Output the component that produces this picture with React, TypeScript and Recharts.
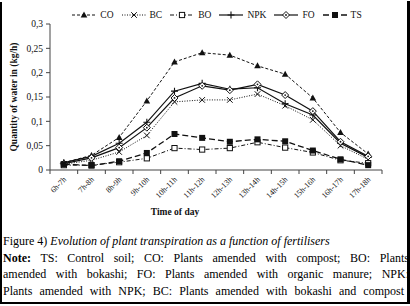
import React from 'react';
import { ComposedChart, Line, XAxis, YAxis, Legend } from 'recharts';

const hours = ['6h-7h', '7h-8h', '8h-9h', '9h-10h', '10h-11h', '11h-12h', '12h-13h', '13h-14h', '14h-15h', '15h-16h', '16h-17h', '17h-18h'];
const co = [0.015, 0.03, 0.067, 0.142, 0.222, 0.241, 0.236, 0.214, 0.197, 0.148, 0.077, 0.033];
const bc = [0.012, 0.02, 0.037, 0.071, 0.14, 0.144, 0.144, 0.156, 0.132, 0.103, 0.05, 0.022];
const bo = [0.01, 0.01, 0.016, 0.024, 0.045, 0.042, 0.045, 0.057, 0.046, 0.036, 0.02, 0.014];
const npk = [0.015, 0.028, 0.055, 0.098, 0.162, 0.178, 0.166, 0.169, 0.136, 0.113, 0.055, 0.026];
const fo = [0.013, 0.025, 0.046, 0.087, 0.148, 0.173, 0.164, 0.176, 0.154, 0.121, 0.058, 0.028];
const ts = [0.012, 0.009, 0.018, 0.035, 0.074, 0.066, 0.058, 0.063, 0.059, 0.04, 0.022, 0.01];
const yTicks = [0, 0.05, 0.1, 0.15, 0.2, 0.25, 0.3];

const data = hours.map((hour, i) => ({
  hour,
  CO: co[i],
  BC: bc[i],
  BO: bo[i],
  NPK: npk[i],
  FO: fo[i],
  TS: ts[i],
}));

type Shape = 'triangle' | 'cross' | 'square' | 'plus' | 'diamond' | 'filled';

const series: { key: string; dash?: string; width: number; shape: Shape }[] = [
  { key: 'CO', dash: '3 2', width: 1, shape: 'triangle' },
  { key: 'BC', dash: '1 1.5', width: 1, shape: 'cross' },
  { key: 'BO', dash: '4 2 1 2', width: 1, shape: 'square' },
  { key: 'NPK', width: 1.2, shape: 'plus' },
  { key: 'FO', width: 1.2, shape: 'diamond' },
  { key: 'TS', dash: '6 3', width: 1.3, shape: 'filled' },
];

const SERIF = '"Liberation Serif", "Times New Roman", serif';
const INK = '#111';
const AXIS = '#444';

const CHART_W = 410;
const CHART_H = 230;
const PLOT_LEFT = 50;
const PLOT_RIGHT = 28;
const PLOT_BOTTOM = 170;
const BAND = (CHART_W - PLOT_LEFT - PLOT_RIGHT) / hours.length;

function Marker({ shape, cx, cy }: { shape: Shape; cx: number; cy: number }) {
  switch (shape) {
    case 'triangle':
      return <polygon points={`${cx},${cy - 3.5} ${cx + 3.3},${cy + 2.5} ${cx - 3.3},${cy + 2.5}`} fill={INK} />;
    case 'cross':
      return (
        <path d={`M${cx - 2.8},${cy - 2.8}L${cx + 2.8},${cy + 2.8}M${cx - 2.8},${cy + 2.8}L${cx + 2.8},${cy - 2.8}`} stroke={INK} strokeWidth={1} />
      );
    case 'square':
      return <rect x={cx - 2.6} y={cy - 2.6} width={5.2} height={5.2} fill="#fff" stroke={INK} strokeWidth={1} />;
    case 'plus':
      return <path d={`M${cx - 3.5},${cy}L${cx + 3.5},${cy}M${cx},${cy - 3.5}L${cx},${cy + 3.5}`} stroke={INK} strokeWidth={1.1} />;
    case 'diamond':
      return (
        <g>
          <polygon points={`${cx},${cy - 3.5} ${cx + 3.5},${cy} ${cx},${cy + 3.5} ${cx - 3.5},${cy}`} fill="#fff" stroke={INK} strokeWidth={1} />
          <circle cx={cx} cy={cy} r={0.9} fill={INK} />
        </g>
      );
    default:
      return <rect x={cx - 3} y={cy - 3} width={6} height={6} fill={INK} />;
  }
}

function HourTick(props: any) {
  const { x, payload, index } = props;
  const ax = x + 3;
  const ay = PLOT_BOTTOM + 10;
  return (
    <g>
      <line x1={x - BAND / 2} x2={x - BAND / 2} y1={PLOT_BOTTOM} y2={PLOT_BOTTOM + 4} stroke={AXIS} />
      {index === hours.length - 1 && (
        <line x1={x + BAND / 2} x2={x + BAND / 2} y1={PLOT_BOTTOM} y2={PLOT_BOTTOM + 4} stroke={AXIS} />
      )}
      <text x={ax} y={ay} transform={`rotate(-45 ${ax} ${ay})`} textAnchor="end" fontSize={8} fontFamily={SERIF} fill={INK}>
        {payload.value}
      </text>
    </g>
  );
}

function LegendRow() {
  return (
    <div style={{ display: 'flex', justifyContent: 'center', alignItems: 'center', fontFamily: SERIF, fontSize: 9.5, color: INK }}>
      {series.map((s) => (
        <div key={s.key} style={{ display: 'flex', alignItems: 'center', marginRight: 7 }}>
          <svg width={26} height={10} style={{ marginRight: 3 }}>
            <line x1={1} x2={25} y1={5} y2={5} stroke={INK} strokeWidth={s.width} strokeDasharray={s.dash} />
            <Marker shape={s.shape} cx={13} cy={5} />
          </svg>
          <span>{s.key}</span>
        </div>
      ))}
    </div>
  );
}

const fmt = (v: number) => String(v).replace('.', ',');

export default function App() {
  return (
    <div style={{ position: 'relative', width: 410, height: 306, background: '#fff', overflow: 'hidden' }}>
      <style>{'body{margin:0;background:#fff}'}</style>
      <ComposedChart width={CHART_W} height={CHART_H} data={data} margin={{ top: 24, right: PLOT_RIGHT, left: 0, bottom: 0 }}>
        <XAxis
          dataKey="hour"
          scale="band"
          interval={0}
          height={60}
          tickLine={false}
          tick={<HourTick />}
          stroke={AXIS}
          label={{ value: 'Time of day', position: 'center', dx: -41, dy: 12, style: { fontFamily: SERIF, fontSize: 9.5, fontWeight: 'bold', fill: INK } }}
        />
        <YAxis
          type="number"
          domain={[0, 0.3]}
          ticks={yTicks}
          width={PLOT_LEFT}
          tickSize={4}
          tickMargin={3}
          tickFormatter={fmt}
          stroke={AXIS}
          tick={{ fontFamily: SERIF, fontSize: 9.5, fill: INK }}
          label={{ value: 'Quantity of water in (kg/h)', angle: -90, position: 'center', dx: -11, style: { fontFamily: SERIF, fontSize: 9.5, fontWeight: 'bold', fill: INK } }}
        />
        <Legend verticalAlign="middle" align="center" wrapperStyle={{ top: 10, left: 60, width: 320, height: 14 }} content={<LegendRow />} />
        {series.map((s) => (
          <Line
            key={s.key}
            dataKey={s.key}
            type="linear"
            stroke={INK}
            strokeWidth={s.width}
            strokeDasharray={s.dash}
            isAnimationActive={false}
            dot={(p: any) => <Marker key={`${s.key}-${p.index}`} shape={s.shape} cx={p.cx} cy={p.cy} />}
            activeDot={false}
          />
        ))}
      </ComposedChart>
      <div style={{ position: 'absolute', left: 3, top: 233, width: 406, fontFamily: SERIF, fontSize: 12, lineHeight: '16.5px', color: '#000' }}>
        <div>
          Figure 4) <i>Evolution of plant transpiration as a function of fertilisers</i>
        </div>
        <div style={{ textAlign: 'justify', textAlignLast: 'justify' }}>
          <b>Note:</b> TS: Control soil; CO: Plants amended with compost; BO: Plants
        </div>
        <div style={{ textAlign: 'justify', textAlignLast: 'justify' }}>
          amended with bokashi; FO: Plants amended with organic manure; NPK:
        </div>
        <div style={{ width: 401, textAlign: 'justify', textAlignLast: 'justify' }}>
          Plants amended with NPK; BC: Plants amended with bokashi and compost
        </div>
      </div>
      <div style={{ position: 'absolute', left: 0, top: 2, width: 2, height: 302, background: '#000' }} />
      <div style={{ position: 'absolute', left: 407, top: 1, width: 3, height: 303, background: '#000' }} />
      <div style={{ position: 'absolute', left: 0, top: 302, width: 410, height: 2, background: '#000' }} />
    </div>
  );
}
